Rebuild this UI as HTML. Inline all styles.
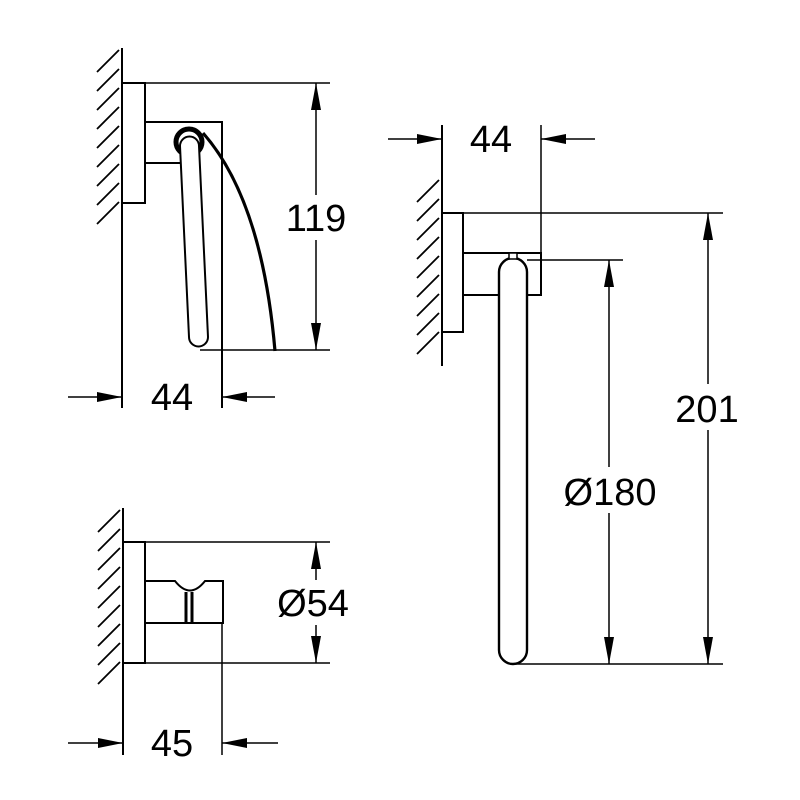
<!DOCTYPE html>
<html><head><style>html,body{margin:0;padding:0;background:#fff}svg{display:block}</style></head><body>
<svg id="s" width="800" height="800" viewBox="0 0 800 800" xmlns="http://www.w3.org/2000/svg">
<g id="hatch" stroke="#000" stroke-width="1.8" fill="none"></g>
<g fill="none" stroke="#000" stroke-width="1.5">
<!-- Diagram 1 -->
<line x1="122" y1="48" x2="122" y2="408" stroke-width="2"/>
<rect x="122" y="83" width="23" height="120" stroke-width="2"/>
<polyline points="145,122 222,122 222,408" stroke-width="2"/>
<line x1="145" y1="163" x2="185" y2="163" stroke-width="2"/>
<line x1="145" y1="83" x2="330" y2="83"/>
<line x1="200" y1="350" x2="330" y2="350"/>
<circle cx="189" cy="142" r="13" stroke-width="5"/>
<path d="M180,146 L189,337 A9.5,9.5 0 0 0 208,337 L199,146 A9.5,9.5 0 0 0 180,146 Z" fill="#fff" stroke-width="2"/>
<path d="M203,133 Q262,200 275,351" stroke-width="3.2"/>
<line x1="316" y1="83" x2="316" y2="195"/><line x1="316" y1="240" x2="316" y2="350"/>
<line x1="68" y1="397" x2="122" y2="397"/><line x1="222" y1="397" x2="275" y2="397"/>
<!-- Diagram 2 -->
<line x1="442" y1="125" x2="442" y2="366" stroke-width="2"/>
<rect x="442" y="213" width="21" height="119" stroke-width="2"/>
<polyline points="463,253 541,253 541,295 527,295" stroke-width="2"/>
<line x1="463" y1="295" x2="499" y2="295" stroke-width="2"/>
<line x1="541" y1="125" x2="541" y2="253"/>
<line x1="388" y1="139" x2="442" y2="139"/><line x1="541" y1="139" x2="595" y2="139"/>
<line x1="463" y1="213" x2="723" y2="213"/>
<line x1="527" y1="260" x2="623" y2="260"/>
<line x1="513" y1="664" x2="723" y2="664"/>
<rect x="499" y="258" width="28" height="406" rx="14" ry="14" fill="#fff" stroke-width="2.4"/>
<rect x="509" y="253" width="8" height="6" fill="#fff" stroke-width="1.5"/>
<line x1="609" y1="260" x2="609" y2="467"/><line x1="609" y1="513" x2="609" y2="664"/>
<line x1="708" y1="213" x2="708" y2="384"/><line x1="708" y1="430" x2="708" y2="664"/>
<!-- Diagram 3 -->
<line x1="123" y1="508" x2="123" y2="755" stroke-width="2"/>
<rect x="123" y="542" width="22" height="121" stroke-width="2"/>
<path d="M146,581 L175,581 Q190,600 205,581 L223,581 L223,623 L146,623" stroke-width="2"/>
<line x1="186" y1="592" x2="186" y2="623" stroke-width="3"/><line x1="192" y1="592" x2="192" y2="623" stroke-width="3"/>
<line x1="222" y1="623" x2="222" y2="755"/>
<line x1="145" y1="542" x2="330" y2="542"/><line x1="145" y1="663" x2="330" y2="663"/>
<line x1="316" y1="542" x2="316" y2="580"/><line x1="316" y1="625" x2="316" y2="663"/>
<line x1="68" y1="743" x2="123" y2="743"/><line x1="222" y1="743" x2="278" y2="743"/>
</g>
<g fill="#000">
<polygon points="316,83 311,110 321,110"/><polygon points="316,350 311,323 321,323"/>
<polygon points="122,397 97,392 97,402"/><polygon points="222,397 247,392 247,402"/>
<polygon points="442,139 417,134 417,144"/><polygon points="541,139 566,134 566,144"/>
<polygon points="708,213 703,240 713,240"/><polygon points="708,664 703,637 713,637"/>
<polygon points="609,260 604,287 614,287"/><polygon points="609,664 604,637 614,637"/>
<polygon points="316,542 311,569 321,569"/><polygon points="316,663 311,636 321,636"/>
<polygon points="123,743 98,738 98,748"/><polygon points="222,743 247,738 247,748"/>
</g>
<g font-family="Liberation Sans, sans-serif" font-size="38" text-anchor="middle" fill="#000">
<text x="316" y="231">119</text>
<text x="172" y="410">44</text>
<text x="491" y="152">44</text>
<text x="707" y="422">201</text>
<text x="610" y="505">Ø180</text>
<text x="313" y="616">Ø54</text>
<text x="172" y="756">45</text>
</g>
</svg>
<script>
var g=document.getElementById('hatch'),ns='http://www.w3.org/2000/svg';
function H(wx,y0,y1){for(var y=y0;y<=y1;y+=19){var l=document.createElementNS(ns,'line');
l.setAttribute('x1',wx-25);l.setAttribute('y1',y+22);l.setAttribute('x2',wx-3);l.setAttribute('y2',y);g.appendChild(l);}}
H(122,50,212);H(442,180,340);H(123,510,670);
</script>
</body></html>
